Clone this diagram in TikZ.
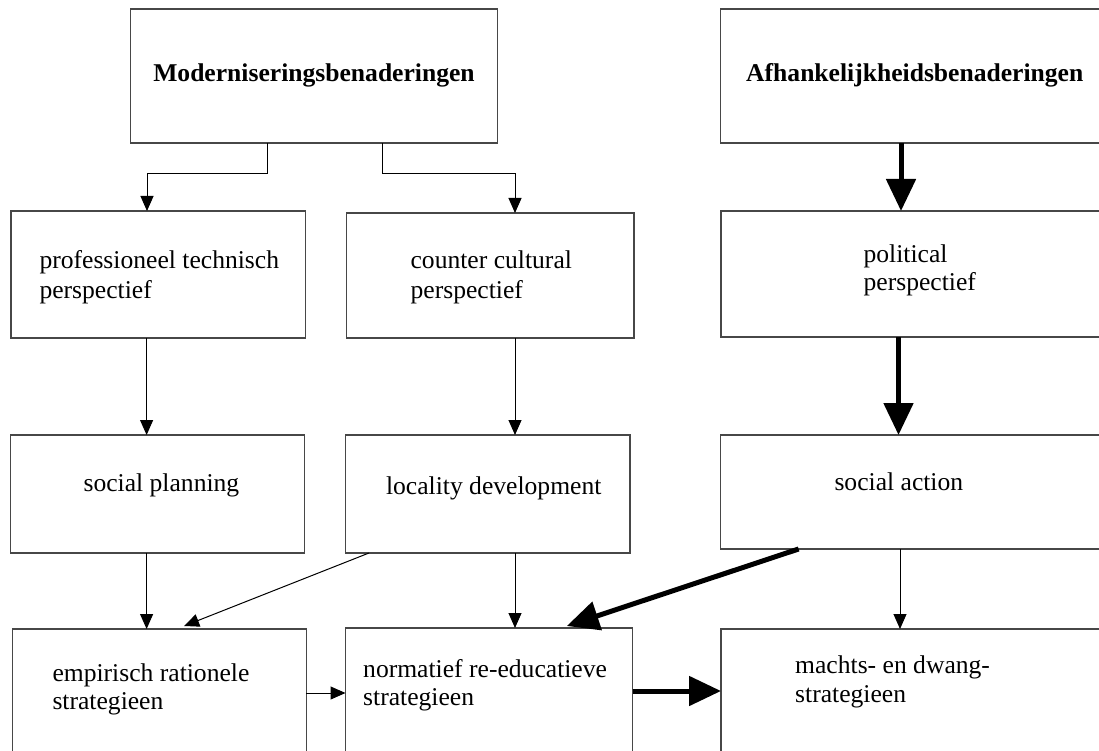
\documentclass[tikz,border=0pt]{standalone}
\usepackage{fontspec}
\setmainfont{Liberation Serif}
\usetikzlibrary{arrows.meta}
\begin{document}
\begin{tikzpicture}[x=1pt,y=-1pt,
  box/.style={draw=black!72, line width=1.4pt, anchor=north west, inner sep=0pt, outer sep=0pt},
  txt/.style={anchor=base west, inner sep=0pt, font=\fontsize{25.6}{30}\selectfont},
  hdr/.style={anchor=base west, inner sep=0pt, font=\fontsize{25.6}{30}\selectfont\bfseries},
  arr/.style={-{Triangle[length=15pt,width=13pt]}, line width=1pt},
  bigarr/.style={-{Triangle[length=32pt,width=29pt]}, line width=5pt}]
\useasboundingbox (0,0) rectangle (1099,751);
\clip (0,0) rectangle (1099,751);
\fill[white] (0,0) rectangle (1099,751);
% boxes
\node[box, minimum width=367pt, minimum height=134pt] (A) at (130.5,9) {};
\node[box, minimum width=420pt, minimum height=134pt] (B) at (720.5,9) {};
\node[box, minimum width=294.5pt, minimum height=127pt] (P) at (11,211) {};
\node[box, minimum width=287.5pt, minimum height=125pt] (C) at (346.5,213) {};
\node[box, minimum width=420pt, minimum height=126pt] (Pol) at (721,211) {};
\node[box, minimum width=294pt, minimum height=118pt] (SP) at (10.5,435) {};
\node[box, minimum width=284.5pt, minimum height=118pt] (L) at (345.5,435) {};
\node[box, minimum width=420pt, minimum height=114pt] (SA) at (720.5,435) {};
\node[box, minimum width=294pt, minimum height=160pt] (E) at (12.3,629) {};
\node[box, minimum width=287pt, minimum height=160pt] (N) at (345.5,628) {};
\node[box, minimum width=420pt, minimum height=160pt] (M) at (721,629) {};
% texts
\node[hdr, anchor=base] (tA) at (314,82) {Moderniseringsbenaderingen};
\node[hdr] (tB) at (746,82) {Afhankelijkheidsbenaderingen};
\node[txt] (tP1) at (39.3,269) {professioneel technisch};
\node[txt] (tP2) at (39.3,298) {perspectief};
\node[txt] (tC1) at (410.4,269) {counter cultural};
\node[txt] (tC2) at (410.4,298) {perspectief};
\node[txt] (tPol1) at (863.4,262) {political};
\node[txt] (tPol2) at (863.4,290) {perspectief};
\node[txt, anchor=base] (tSP) at (161.4,491) {social planning};
\node[txt] (tL) at (385.8,494) {locality development};
\node[txt] (tSA) at (834.3,490) {social action};
\node[txt] (tE1) at (52.3,681) {empirisch rationele};
\node[txt] (tE2) at (52.3,709) {strategieen};
\node[txt] (tN1) at (363,677) {normatief re-educatieve};
\node[txt] (tN2) at (363,705) {strategieen};
\node[txt] (tM1) at (795,673) {machts- en dwang-};
\node[txt] (tM2) at (795,702) {strategieen};
% connectors
\draw[arr] ([xshift=136.8pt]A.south west) -- ++(0,31) -| ([xshift=136pt]P.north west);
\draw[arr] ([xshift=251.8pt]A.south west) -- ++(0,31) -| ([xshift=168.5pt]C.north west);
\draw[bigarr] ([xshift=180.5pt]B.south west) -- ([xshift=180pt]Pol.north west);
\draw[arr] ([xshift=135.6pt]P.south west) -- ([xshift=136.1pt]SP.north west);
\draw[arr] ([xshift=168.5pt]C.south west) -- ([xshift=169.5pt]L.north west);
\draw[bigarr] ([xshift=177.5pt]Pol.south west) -- ([xshift=178pt]SA.north west);
\draw[arr] ([xshift=136.1pt]SP.south west) -- ([xshift=134.3pt]E.north west);
\draw[arr] ([xshift=23.5pt]L.south west) -- ([xshift=171.8pt,yshift=3pt]E.north west);
\draw[arr] ([xshift=169.5pt]L.south west) -- ([xshift=169.5pt]N.north west);
\draw[bigarr] ([xshift=78.1pt]SA.south west) -- ([xshift=221.3pt,yshift=2pt]N.north west);
\draw[arr] ([xshift=179.5pt]SA.south west) -- ([xshift=179pt]M.north west);
\draw[arr] ([yshift=-64pt]E.north east) -- ([yshift=-65pt]N.north west);
\draw[bigarr] ([yshift=-63pt]N.north east) -- ([yshift=-62pt]M.north west);
\end{tikzpicture}
\end{document}
